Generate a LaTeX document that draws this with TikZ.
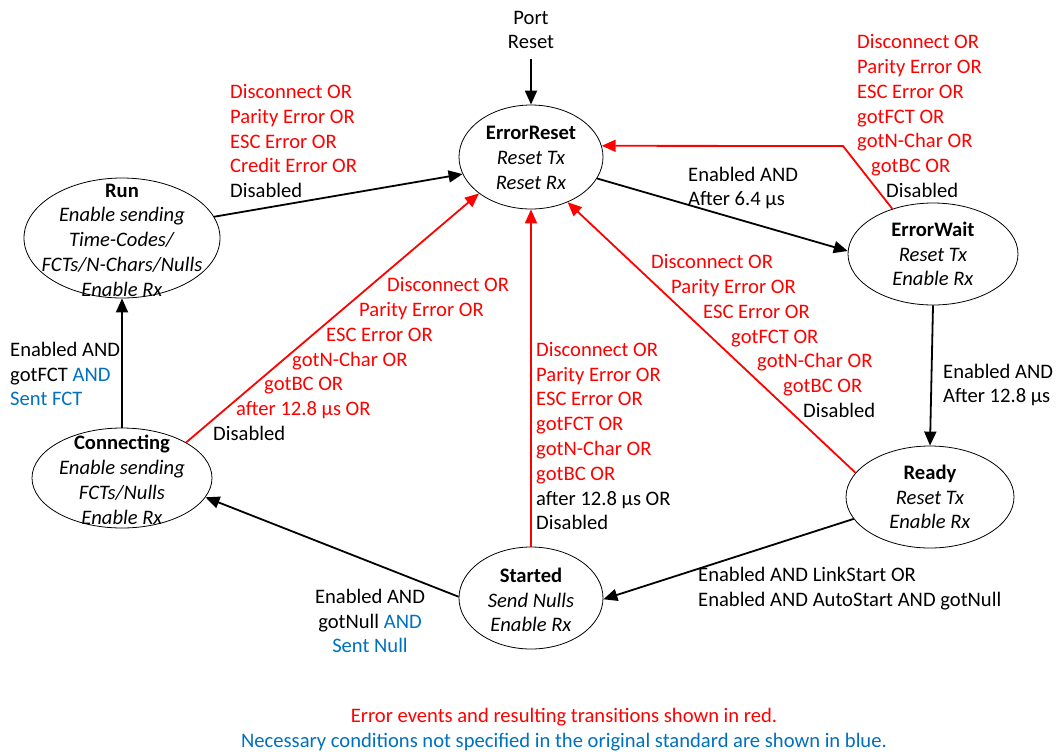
\documentclass[tikz,border=0pt]{standalone}
\usepackage{fontspec}
\setmainfont{Carlito}
\usetikzlibrary{arrows.meta,shapes.geometric}
\definecolor{errred}{RGB}{255,0,0}
\definecolor{noteblue}{RGB}{0,112,192}
\begin{document}
\begin{tikzpicture}[x=1pt,y=-1pt,
  every node/.style={font=\fontsize{20.6}{24.8}\selectfont, inner sep=0pt},
  state/.style={ellipse, draw, line width=0.8pt, inner sep=0pt},
  statetext/.style={align=center},
  lbl/.style={align=left, anchor=west},
  flow/.style={line width=1.8pt, -{Triangle[length=14pt,width=12pt]}},
  errflow/.style={flow, color=errred}]
\useasboundingbox (0,0) rectangle (1057,753);

% states
\node[state, minimum width=144pt, minimum height=104pt] (er) at (531,157) {};
\node[state, minimum width=196pt, minimum height=120pt] (run) at (122,238) {};
\node[state, minimum width=180pt, minimum height=100pt] (cn) at (122,478) {};
\node[state, minimum width=170pt, minimum height=102pt] (ew) at (933,254) {};
\node[state, minimum width=168pt, minimum height=102pt] (rd) at (930,497) {};
\node[state, minimum width=144pt, minimum height=102pt] (st) at (531,598) {};

\node[statetext] (ertext) at (531,158) {\textbf{ErrorReset}\\\textit{Reset Tx}\\\textit{Reset Rx}};
\node[statetext] (runtext) at (122,240) {\textbf{Run}\\\textit{Enable sending}\\\textit{Time-Codes/}\\\textit{FCTs/N-Chars/Nulls}\\\textit{Enable Rx}};
\node[statetext] (cntext) at (122,480) {\textbf{Connecting}\\\textit{Enable sending}\\\textit{FCTs/Nulls}\\\textit{Enable Rx}};
\node[statetext] (ewtext) at (933,254) {\textbf{ErrorWait}\\\textit{Reset Tx}\\\textit{Enable Rx}};
\node[statetext] (rdtext) at (930,497) {\textbf{Ready}\\\textit{Reset Tx}\\\textit{Enable Rx}};
\node[statetext] (sttext) at (531,600) {\textbf{Started}\\\textit{Send Nulls}\\\textit{Enable Rx}};

% reset input
\node[statetext] (port) at (531,30) {Port\\Reset};
\draw[flow, shorten <=9.5pt] (port.south) -- (er.north);

% normal transitions
\draw[flow] (run.13) -- (er.194);
\draw[flow] (er.-18) -- (ew.178);
\draw[flow] (ew.south) -- (rd.north);
\draw[flow] (rd.196) -- (st.-1);
\draw[flow] (st.179) -- (cn.-13);
\draw[flow] (cn.north) -- (run.south);

% error transitions
\coordinate (ewbend) at (843,146);
\draw[errflow] (ew.132) -- (ewbend) -- (er.9);
\draw[errflow] (rd.162) -- (er.309);
\draw[errflow] (st.north) -- (er.south);
\draw[errflow] (cn.29) -- (er.215);

% transition conditions
\node[lbl, text=errred] (lrun) at (230,141) {Disconnect OR\\Parity Error OR\\ESC Error OR\\Credit Error OR\\\textcolor{black}{Disabled}};
\node[lbl] (lerew) at (688,188) {Enabled AND\\After 6.4 µs};
\node[lbl, text=errred] (lewer) at (857,116) {Disconnect OR\\Parity Error OR\\ESC Error OR\\gotFCT OR\\gotN-Char OR\\\hspace*{14pt}gotBC OR\\\hspace*{29pt}\textcolor{black}{Disabled}};
\node[lbl] (lewrd) at (943,385) {Enabled AND\\After 12.8 µs};
\node[lbl] (lcnrun) at (10,374) {Enabled AND\\gotFCT \textcolor{noteblue}{AND}\\\textcolor{noteblue}{Sent FCT}};
\node[lbl, text=errred] (lcner) at (213,359) {\hspace*{174pt}Disconnect OR\\\hspace*{146pt}Parity Error OR\\\hspace*{113pt}ESC Error OR\\\hspace*{79pt}gotN-Char OR\\\hspace*{51pt}gotBC OR\\\hspace*{23pt}after 12.8 µs OR\\\textcolor{black}{Disabled}};
\node[lbl, text=errred] (lster) at (536,436) {Disconnect OR\\Parity Error OR\\ESC Error OR\\gotFCT OR\\gotN-Char OR\\gotBC OR\\\textcolor{black}{after 12.8 µs OR}\\\textcolor{black}{Disabled}};
\node[lbl, text=errred] (lrder) at (651,336) {Disconnect OR\\\hspace*{20pt}Parity Error OR\\\hspace*{52pt}ESC Error OR\\\hspace*{80pt}gotFCT OR\\\hspace*{106pt}gotN-Char OR\\\hspace*{132pt}gotBC OR\\\hspace*{152pt}\textcolor{black}{Disabled}};
\node[lbl] (lrdst) at (698,589) {Enabled AND LinkStart OR\\Enabled AND AutoStart AND gotNull};
\node[statetext] (lstcn) at (370,621) {Enabled AND\\gotNull \textcolor{noteblue}{AND}\\\textcolor{noteblue}{Sent Null}};

% legend
\node[statetext] (notes) at (564,730) {\textcolor{errred}{Error events and resulting transitions shown in red.}\\\textcolor{noteblue}{Necessary conditions not specified in the original standard are shown in blue.}};
\end{tikzpicture}
\end{document}
